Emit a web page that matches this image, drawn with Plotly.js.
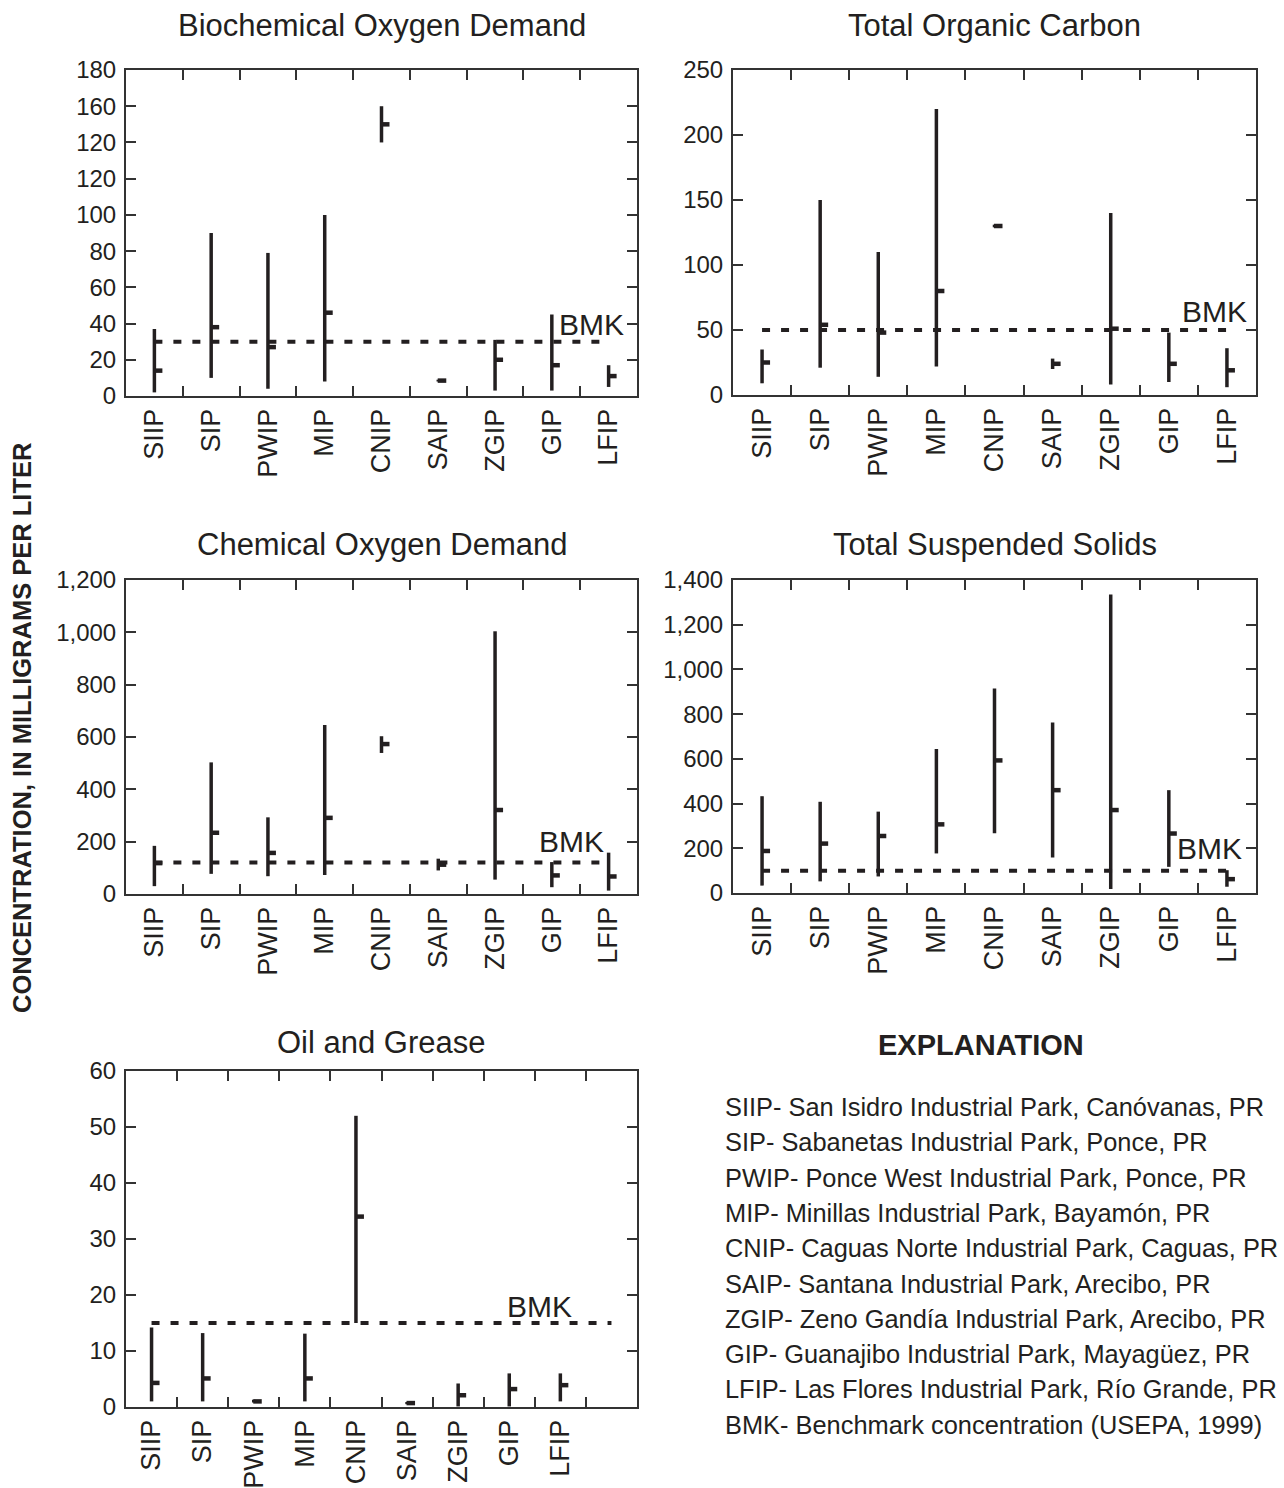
<!DOCTYPE html>
<html><head><meta charset="utf-8">
<script src="https://cdn.plot.ly/plotly-3.0.1.min.js"></script>
<style>html,body{margin:0;padding:0;background:#fff;} #chart{width:1284px;height:1488px;}</style>
</head><body><div id="chart"></div>
<script>
// ---- data ----
const sites = ['SIIP','SIP','PWIP','MIP','CNIP','SAIP','ZGIP','GIP','LFIP'];

const bodMin = [2, 10, 4, 8, 140, 8, 3, 3, 5];
const bodMax = [37, 90, 79, 100, 160, 9, 31, 45, 17];
const bodMed = [14, 38, 27, 46, 150, 8.5, 20, 17, 11];
const bodBmk = 30;
const bodTickVals = [0, 20, 40, 60, 80, 100, 120, 140, 160, 180];
const bodTickText = ['0','20','40','60','80','100','120','120','160','180'];

const tocMin = [9, 21, 14, 22, 129, 20, 8, 10, 6];
const tocMax = [35, 150, 110, 220, 131, 28, 140, 48, 36];
const tocMed = [25, 54, 48, 80, 130, 24, 51, 24, 19];
const tocBmk = 50;
const tocTickVals = [0, 50, 100, 150, 200, 250];
const tocTickText = ['0','50','100','150','200','250'];

const codMin = [30, 77, 68, 73, 539, 90, 55, 26, 13];
const codMax = [184, 503, 293, 646, 603, 135, 1004, 122, 158];
const codMed = [118, 234, 157, 291, 573, 112, 321, 71, 67];
const codBmk = 120;
const codTickVals = [0, 200, 400, 600, 800, 1000, 1200];
const codTickText = ['0','200','400','600','800','1,000','1,200'];

const tssMin = [33, 52, 74, 177, 267, 159, 18, 117, 28];
const tssMax = [433, 408, 364, 644, 915, 763, 1335, 460, 102];
const tssMed = [188, 221, 255, 307, 593, 460, 371, 266, 62];
const tssBmk = 100;
const tssTickVals = [0, 200, 400, 600, 800, 1000, 1200, 1400];
const tssTickText = ['0','200','400','600','800','1,000','1,200','1,400'];

const oilMin = [1, 1, 0.8, 1, 15, 0.5, 0.1, 0.1, 1];
const oilMax = [14.2, 13.2, 1.3, 13.1, 52, 0.9, 4.2, 6, 6];
const oilMed = [4.3, 5.1, 1, 5.1, 34, 0.7, 2.1, 3.2, 3.9];
const oilBmk = 15;
const oilTickVals = [0, 10, 20, 30, 40, 50, 60];
const oilTickText = ['0','10','20','30','40','50','60'];

const titles = ['Biochemical Oxygen Demand','Total Organic Carbon','Chemical Oxygen Demand','Total Suspended Solids','Oil and Grease'];
const yTitle = 'CONCENTRATION, IN MILLIGRAMS PER LITER';
const explanationTitle = 'EXPLANATION';
const explanation = [
  'SIIP- San Isidro Industrial Park, Canóvanas, PR',
  'SIP- Sabanetas Industrial Park, Ponce, PR',
  'PWIP- Ponce West Industrial Park, Ponce, PR',
  'MIP- Minillas Industrial Park, Bayamón, PR',
  'CNIP- Caguas Norte Industrial Park, Caguas, PR',
  'SAIP- Santana Industrial Park, Arecibo, PR',
  'ZGIP- Zeno Gandía Industrial Park, Arecibo, PR',
  'GIP- Guanajibo Industrial Park, Mayagüez, PR',
  'LFIP- Las Flores Industrial Park, Río Grande, PR',
  'BMK- Benchmark concentration (USEPA, 1999)'
];

// ---- layout / styling ----
const W = 1284, H = 1488;
const fx = px => px / W, fy = py => 1 - py / H;
const INK = '#231f20', AX = '#333333';
const FONT = '"Liberation Sans", Arial, Helvetica, sans-serif';

const panels = [
  {min: bodMin, max: bodMax, med: bodMed, bmk: bodBmk, yv: bodTickVals, yt: bodTickText, box: [126, 637, 70, 396], slots: 9, ty: 25, bmkShift: [-17, 17]},
  {min: tocMin, max: tocMax, med: tocMed, bmk: tocBmk, yv: tocTickVals, yt: tocTickText, box: [733, 1256, 70, 395], slots: 9, ty: 25, bmkShift: [-12, 18]},
  {min: codMin, max: codMax, med: codMed, bmk: codBmk, yv: codTickVals, yt: codTickText, box: [126, 637, 580, 894], slots: 9, ty: 545, bmkShift: [-37, 21]},
  {min: tssMin, max: tssMax, med: tssMed, bmk: tssBmk, yv: tssTickVals, yt: tssTickText, box: [733, 1256, 580, 893], slots: 9, ty: 545, bmkShift: [-17, 22]},
  {min: oilMin, max: oilMax, med: oilMed, bmk: oilBmk, yv: oilTickVals, yt: oilTickText, box: [126, 637, 1071, 1407], slots: 10, ty: 1042, bmkShift: [-21, 17]}
];

const traces = [];
const layout = {
  width: W, height: H,
  margin: {l: 0, r: 0, t: 0, b: 0},
  paper_bgcolor: '#fff', plot_bgcolor: '#fff',
  showlegend: false,
  font: {family: FONT, color: INK},
  annotations: []
};

panels.forEach((p, k) => {
  const n = k + 1;
  const xa = 'x' + (n > 1 ? n : ''), ya = 'y' + (n > 1 ? n : '');
  const idx = sites.map((s, i) => i);
  const slotPx = (p.box[1] - p.box[0]) / p.slots;
  const medOff = 8 / slotPx;

  traces.push({
    type: 'scatter', mode: 'lines', xaxis: xa, yaxis: ya, hoverinfo: 'skip',
    x: idx.flatMap(i => [i, i, null]),
    y: idx.flatMap(i => [p.min[i], p.max[i], null]),
    line: {color: INK, width: 3.5}
  });
  traces.push({
    type: 'scatter', mode: 'lines', xaxis: xa, yaxis: ya, hoverinfo: 'skip',
    x: idx.flatMap(i => [i - 0.01, i + medOff, null]),
    y: idx.flatMap(i => [p.med[i], p.med[i], null]),
    line: {color: INK, width: 4.5}
  });
  const lastIdx = p.slots - 1;
  traces.push({
    type: 'scatter', mode: 'lines', xaxis: xa, yaxis: ya, hoverinfo: 'skip',
    x: [0, lastIdx], y: [p.bmk, p.bmk],
    line: {color: INK, width: 4, dash: '8px,11px'}
  });

  const cats = sites.slice();
  while (cats.length < p.slots) cats.push('');
  const bounds = [];
  for (let b = 0.5; b < p.slots - 0.5; b += 1) bounds.push(b);

  layout['xaxis' + (n > 1 ? n : '')] = {
    domain: [fx(p.box[0]), fx(p.box[1])], anchor: ya,
    range: [-0.5, p.slots - 0.5], fixedrange: true,
    tickmode: 'array', tickvals: cats.map((c, i) => i), ticktext: cats,
    ticks: '', tickangle: -90, ticklabelstandoff: 0,
    tickfont: {family: FONT, size: 27, color: INK},
    showline: true, linecolor: AX, linewidth: 2, mirror: 'ticks',
    showgrid: false, zeroline: false,
    minor: {tickmode: 'array', tickvals: bounds, ticks: 'inside', ticklen: 10, tickwidth: 2, tickcolor: AX, showgrid: false}
  };
  layout['yaxis' + (n > 1 ? n : '')] = {
    domain: [fy(p.box[3]), fy(p.box[2])], anchor: xa,
    range: [p.yv[0], p.yv[p.yv.length - 1]], fixedrange: true,
    tickmode: 'array', tickvals: p.yv, ticktext: p.yt,
    ticks: 'inside', ticklen: 10, tickwidth: 2, tickcolor: AX, ticklabelstandoff: 3,
    tickfont: {family: FONT, size: 24, color: INK},
    showline: true, linecolor: AX, linewidth: 2, mirror: 'ticks',
    showgrid: false, zeroline: false
  };

  layout.annotations.push({
    xref: 'paper', yref: 'paper', x: fx((p.box[0] + p.box[1]) / 2), y: fy(p.ty),
    text: titles[k], showarrow: false, xanchor: 'center', yanchor: 'middle',
    font: {family: FONT, size: 31, color: INK}
  });
  layout.annotations.push({
    xref: xa, yref: ya, x: 8, y: p.bmk, text: 'BMK', showarrow: false,
    xanchor: 'center', yanchor: 'middle', xshift: p.bmkShift[0], yshift: p.bmkShift[1],
    font: {family: FONT, size: 30, color: INK}
  });
});

layout.annotations.push({
  xref: 'paper', yref: 'paper', x: fx(22), y: fy(728), text: '<b>' + yTitle + '</b>',
  showarrow: false, textangle: -90, xanchor: 'center', yanchor: 'middle',
  font: {family: FONT, size: 25.5, color: INK}
});
layout.annotations.push({
  xref: 'paper', yref: 'paper', x: fx(981), y: fy(1045), text: '<b>' + explanationTitle + '</b>',
  showarrow: false, xanchor: 'center', yanchor: 'middle',
  font: {family: FONT, size: 29, color: INK}
});
explanation.forEach((t, i) => {
  layout.annotations.push({
    xref: 'paper', yref: 'paper', x: fx(723), y: fy(1107 + i * 35.3), text: t,
    showarrow: false, xanchor: 'left', yanchor: 'middle',
    font: {family: FONT, size: 25.4, color: INK}
  });
});

Plotly.newPlot('chart', traces, layout, {staticPlot: true});
</script>
</body></html>
